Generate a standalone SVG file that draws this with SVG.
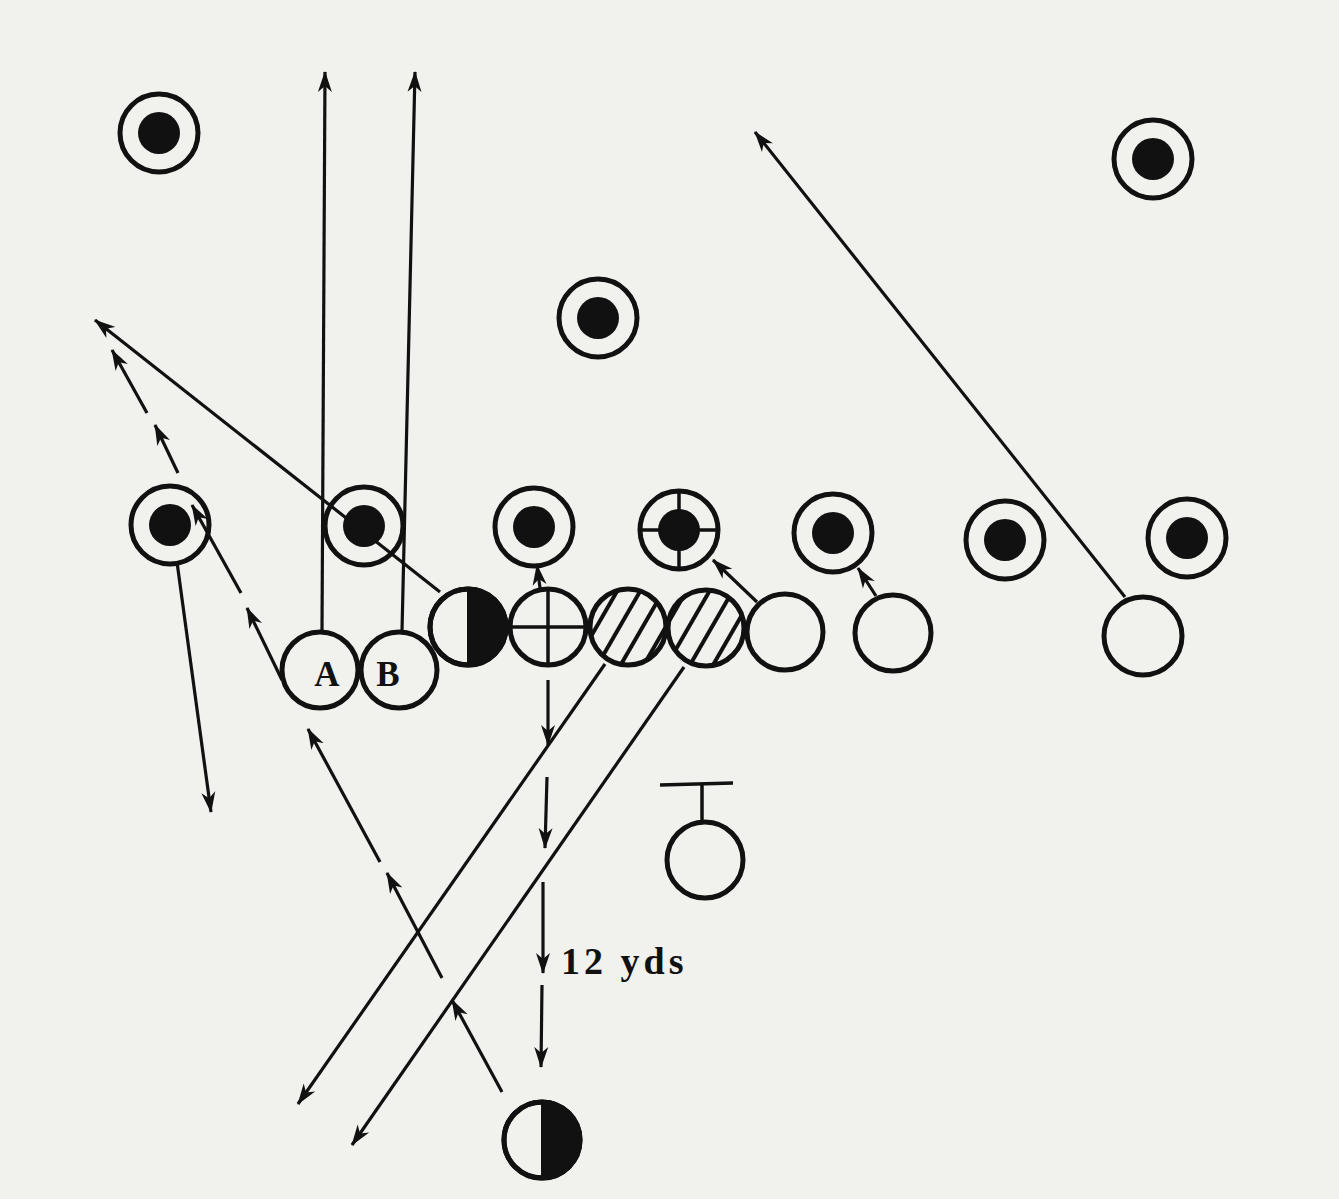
<svg xmlns="http://www.w3.org/2000/svg" width="1339" height="1199" viewBox="0 0 1339 1199">
<defs>
<style>
.ring{fill:none;stroke:#111;stroke-width:5}
.dot{fill:#111}
.off{fill:#f1f1ee;stroke:#111;stroke-width:5}
.ln{stroke:#111;stroke-width:3.5;fill:none}
.lnA{stroke:#111;stroke-width:3.2;fill:none;marker-end:url(#ah)}
.lbl{font-family:"Liberation Serif","Times New Roman",serif;font-weight:bold;fill:#111}
</style>
<marker id="ah" markerUnits="userSpaceOnUse" markerWidth="22" markerHeight="16" refX="20" refY="8" orient="auto" viewBox="0 0 22 16">
<path d="M0,1 L21,8 L0,15 L6,8 Z" fill="#111"/>
</marker>
<pattern id="hatch" patternUnits="userSpaceOnUse" width="20" height="20" patternTransform="rotate(30)">
<line x1="10" y1="-5" x2="10" y2="25" stroke="#111" stroke-width="4"/>
</pattern>
</defs>
<rect width="1339" height="1199" fill="#f1f1ee"/>

<g id="connectors">
<line class="lnA" x1="322" y1="631" x2="325" y2="72"/>
<line class="lnA" x1="402" y1="631" x2="415" y2="72"/>
<line class="lnA" x1="440" y1="592" x2="95" y2="320"/>
<line class="lnA" x1="282" y1="680" x2="247" y2="608"/>
<line class="lnA" x1="241" y1="593" x2="192" y2="505"/>
<line class="lnA" x1="178" y1="473" x2="155" y2="425"/>
<line class="lnA" x1="147" y1="413" x2="112" y2="350"/>
<line class="lnA" x1="177" y1="562" x2="211" y2="812"/>
<line class="lnA" x1="540" y1="588" x2="537" y2="565"/>
<line class="lnA" x1="757" y1="602" x2="713" y2="560"/>
<line class="lnA" x1="876" y1="596" x2="858" y2="568"/>
<line class="lnA" x1="1125" y1="597" x2="755" y2="132"/>
<line class="lnA" x1="605" y1="664" x2="298" y2="1104"/>
<line class="lnA" x1="684" y1="667" x2="352" y2="1145"/>
<line class="lnA" x1="502" y1="1092" x2="452" y2="1000"/>
<line class="lnA" x1="442" y1="978" x2="387" y2="873"/>
<line class="lnA" x1="380" y1="862" x2="308" y2="729"/>
<line class="lnA" x1="548" y1="680" x2="548" y2="745"/>
<line class="lnA" x1="547" y1="777" x2="545" y2="848"/>
<line class="lnA" x1="543" y1="882" x2="543" y2="973"/>
<line class="lnA" x1="542" y1="985" x2="541" y2="1067"/>
</g>

<g id="def-1"><circle class="ring" cx="159" cy="133" r="39"/><circle class="dot" cx="159" cy="133" r="21"/></g>
<g id="def-2"><circle class="ring" cx="1153" cy="159" r="39"/><circle class="dot" cx="1153" cy="159" r="21"/></g>
<g id="def-3"><circle class="ring" cx="598" cy="318" r="39"/><circle class="dot" cx="598" cy="318" r="21"/></g>
<g id="def-4"><circle class="ring" cx="170" cy="525" r="39"/><circle class="dot" cx="170" cy="525" r="21"/></g>
<g id="def-5"><circle class="ring" cx="364" cy="526" r="39"/><circle class="dot" cx="364" cy="526" r="21"/></g>
<g id="def-6"><circle class="ring" cx="534" cy="527" r="39"/><circle class="dot" cx="534" cy="527" r="21"/></g>
<g id="def-7"><circle class="ring" cx="679" cy="530" r="39"/><circle class="dot" cx="679" cy="530" r="21"/>
<line class="ln" x1="640" y1="530" x2="718" y2="530"/><line class="ln" x1="679" y1="491" x2="679" y2="569"/></g>
<g id="def-8"><circle class="ring" cx="833" cy="533" r="39"/><circle class="dot" cx="833" cy="533" r="21"/></g>
<g id="def-9"><circle class="ring" cx="1005" cy="540" r="39"/><circle class="dot" cx="1005" cy="540" r="21"/></g>
<g id="def-10"><circle class="ring" cx="1187" cy="538" r="39"/><circle class="dot" cx="1187" cy="538" r="21"/></g>

<g id="off-A"><circle class="off" cx="320" cy="670" r="38"/><text class="lbl" x="327" y="686" font-size="35" text-anchor="middle">A</text></g>
<g id="off-B"><circle class="off" cx="399" cy="670" r="38"/><text class="lbl" x="388" y="686" font-size="35" text-anchor="middle">B</text></g>
<g id="off-C"><circle class="off" cx="468" cy="627" r="38"/><path d="M467,589 A38,38 0 0 1 467,665 Z" fill="#111"/><circle class="ring" cx="468" cy="627" r="38"/></g>
<g id="off-center"><circle class="off" cx="548" cy="627" r="38"/><line class="ln" x1="510" y1="627" x2="586" y2="627"/><line class="ln" x1="548" y1="589" x2="548" y2="665"/></g>
<g id="off-hatch-1"><circle cx="628" cy="627" r="38" fill="url(#hatch)"/><circle class="ring" cx="628" cy="627" r="38"/></g>
<g id="off-hatch-2"><circle cx="706" cy="628" r="38" fill="url(#hatch)"/><circle class="ring" cx="706" cy="628" r="38"/></g>
<g id="off-3"><circle class="off" cx="785" cy="632" r="38"/></g>
<g id="off-4"><circle class="off" cx="893" cy="633" r="38"/></g>
<g id="off-5"><circle class="off" cx="1143" cy="636" r="39"/></g>
<g id="off-T"><circle class="off" cx="705" cy="860" r="38"/><line class="ln" x1="660" y1="785" x2="733" y2="783"/><line class="ln" x1="702" y1="785" x2="702" y2="822"/></g>
<g id="off-back"><circle class="off" cx="542" cy="1140" r="38"/><path d="M541,1102 A38,38 0 0 1 541,1178 Z" fill="#111"/><circle class="ring" cx="542" cy="1140" r="38"/></g>

<text class="lbl" x="561" y="974" font-size="38" letter-spacing="4">12 yds</text>
</svg>
